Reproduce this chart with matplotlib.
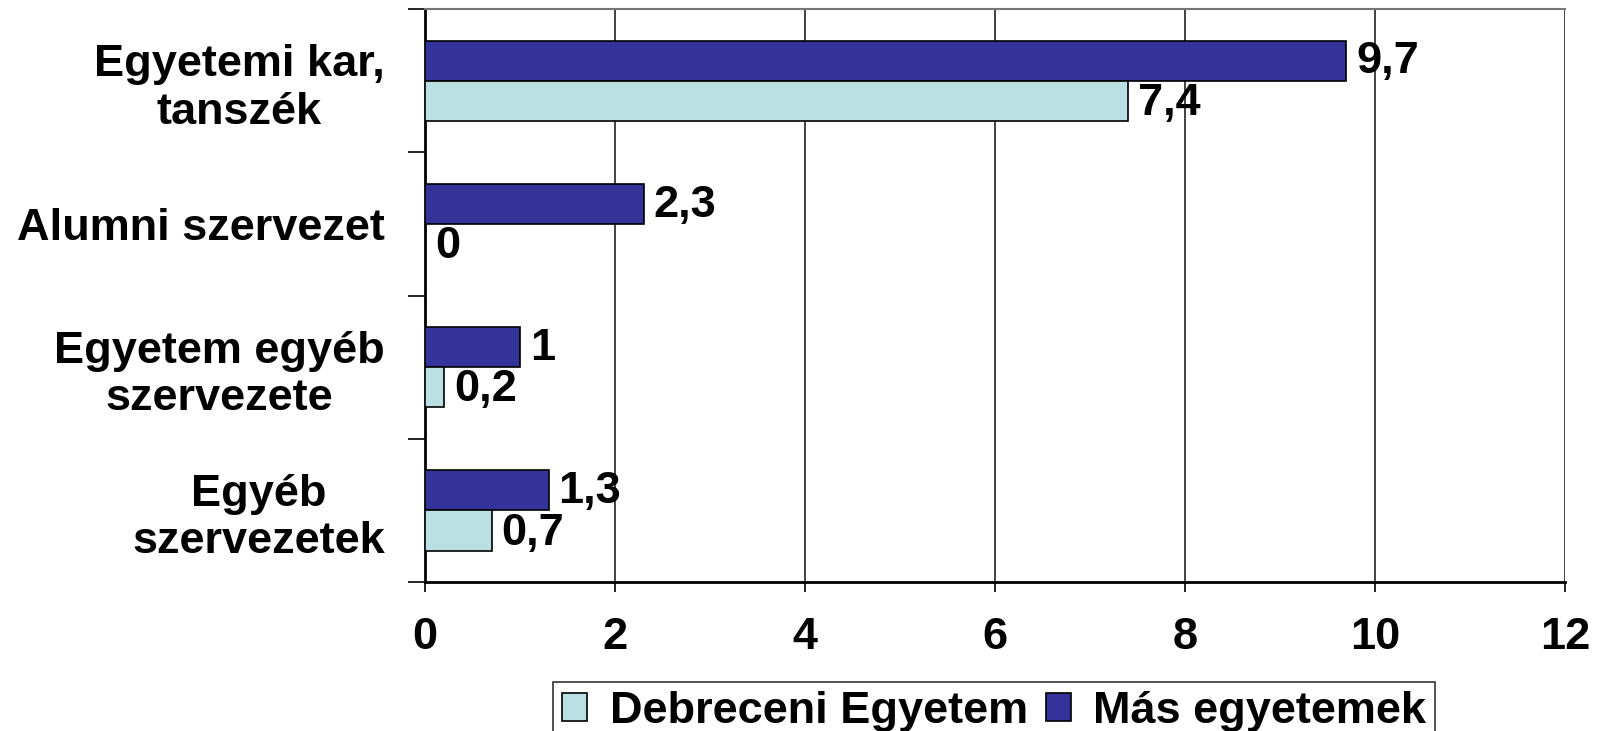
import numpy as np
import matplotlib
matplotlib.use("Agg")
import matplotlib.pyplot as plt
from matplotlib.patches import Patch

plt.rcParams['font.family'] = ['Liberation Sans', 'DejaVu Sans']
plt.rcParams['font.weight'] = 'bold'

categories = ['Egyetemi kar,\ntanszék', 'Alumni szervezet', 'Egyetem egyéb\nszervezete', 'Egyéb\nszervezetek']
debreceni = [7.4, 0, 0.2, 0.7]
mas = [9.7, 2.3, 1.0, 1.3]
series_names = ['Debreceni Egyetem', 'Más egyetemek']
xticks = [0, 2, 4, 6, 8, 10, 12]

c_light = '#BBE0E3'
c_dark = '#333399'
fs = 32.5

fig = plt.figure(figsize=(16.01, 7.31), dpi=100)
ax = fig.add_axes([0.2655, 0.2038, 0.712, 0.7839])

y = np.arange(len(categories))
h = 0.28
ax.barh(y - h / 2, mas, height=h, color=c_dark, edgecolor='black', linewidth=1.2, zorder=3)
ax.barh(y + h / 2, debreceni, height=h, color=c_light, edgecolor='black', linewidth=1.2, zorder=3)

def lab(v):
    return f"{v:g}".replace('.', ',')

for yi, v in zip(y - h / 2, mas):
    ax.annotate(lab(v), (v, yi), xytext=(7, -1), textcoords='offset points',
                ha='left', va='center', fontsize=fs, fontweight='bold')
for yi, v in zip(y + h / 2, debreceni):
    ax.annotate(lab(v), (v, yi), xytext=(7, -2), textcoords='offset points',
                ha='left', va='center', fontsize=fs, fontweight='bold')

ax.set_xlim(0, 12)
ax.set_ylim(3.5, -0.5)
ax.set_xticks(xticks)
ax.set_xticklabels([str(t) for t in xticks], fontsize=fs, fontweight='bold')
ax.tick_params(axis='x', direction='out', length=7, width=1.2, pad=18)

ax.set_yticks([-0.5, 0.5, 1.5, 2.5, 3.5])
ax.set_yticklabels([])
ax.tick_params(axis='y', which='major', direction='out', length=12, width=1.2)
ax.set_yticks(y, minor=True)
ax.set_yticklabels(categories, minor=True, fontsize=fs, fontweight='bold',
                   multialignment='center')
ax.tick_params(axis='y', which='minor', length=0, pad=29)
for t in ax.get_yticklabels(minor=True):
    t.set_linespacing(1.2)

ax.grid(axis='x', color='#222222', linewidth=1.2, zorder=0)
ax.set_axisbelow(True)
ax.spines['left'].set_linewidth(2)
ax.spines['bottom'].set_linewidth(2)
ax.spines['top'].set_color('#777777')
ax.spines['top'].set_linewidth(1.5)
ax.spines['right'].set_visible(False)

handles = [Patch(facecolor=c_light, edgecolor='black', linewidth=1.2),
           Patch(facecolor=c_dark, edgecolor='black', linewidth=1.2)]
leg = fig.legend(handles, series_names, loc='upper center', bbox_to_anchor=(0.621, 0.067),
                 ncol=2, fontsize=fs, frameon=True, fancybox=False, edgecolor='black',
                 handlelength=0.55, handleheight=0.55, handletextpad=0.5, columnspacing=0.4,
                 borderpad=0.2, borderaxespad=0)
leg.get_frame().set_linewidth(1.2)
for t in leg.get_texts():
    t.set_fontweight('bold')

fig.savefig('out.png', dpi=100)
